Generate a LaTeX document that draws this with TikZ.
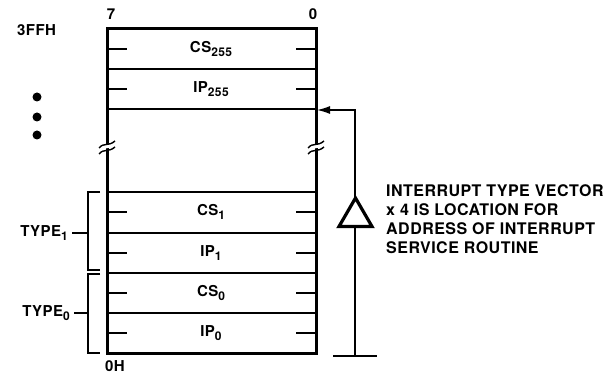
\documentclass[tikz,border=0pt]{standalone}
\usepackage{fontspec}
\setmainfont{TeX Gyre Heros}
\newfontfamily\spaced[LetterSpace=3]{TeX Gyre Heros}
\usetikzlibrary{arrows.meta}
\newcommand{\lowsub}[1]{\raisebox{-0.45ex}{\fontsize{12}{12}\selectfont #1}}
\begin{document}
\begin{tikzpicture}[x=1pt,y=-1pt,
  lbl/.style={font=\spaced\fontsize{15}{15}\bfseries\selectfont, inner sep=0pt},
  outer/.style={line width=3pt},
  rowline/.style={line width=2pt},
  tick/.style={line width=2pt},
  brk/.style={line width=1.5pt},
  breakmark/.style={line width=1.4pt}]
\useasboundingbox (0,0) rectangle (616,374);
% box rows
\foreach \y in {69,109,192,233,273,313} \draw[rowline] (107,\y) -- (316,\y);
\draw[outer] (107,29) rectangle (316,353);
% ticks
\foreach \y in {49,89,212,253,293,333} {
  \draw[tick] (107,\y) -- (127,\y);
  \draw[tick] (296,\y) -- (316,\y);
}
% break marks
\foreach \x in {107,316} {
  \draw[white,line width=4pt] (\x-7,150) .. controls (\x-3,144) and (\x+1,148) .. (\x+7,144);
  \draw[breakmark] (\x-8,148) .. controls (\x-3,142) and (\x+1,147) .. (\x+8,141);
  \draw[breakmark] (\x-8,154) .. controls (\x-3,148) and (\x+1,153) .. (\x+8,147);
}
% row labels
\node[lbl] (cs255) at (211,49) {CS\lowsub{255}};
\node[lbl] (ip255) at (211,89) {IP\lowsub{255}};
\node[lbl] (cs1) at (211,212) {CS\lowsub{1}};
\node[lbl] (ip1) at (211,253) {IP\lowsub{1}};
\node[lbl] (cs0) at (211,293) {CS\lowsub{0}};
\node[lbl] (ip0) at (211,333) {IP\lowsub{0}};
% top / bottom labels
\node[lbl] (b7) at (111,14) {7};
\node[lbl] (b0) at (313,14) {0};
\node[lbl,anchor=west] (top) at (17,30) {3FFH};
\node[lbl,anchor=west] (bot) at (105,366) {0H};
% dots
\foreach \y/\n in {97/d1,117/d2,135/d3} \fill (37,\y) circle (4.5pt) coordinate (\n);
% brackets
\draw[brk] (100,192) -- (88,192) -- (88,270) -- (100,270);
\draw[brk] (100,274) -- (88,274) -- (88,353) -- (100,353);
\node[lbl,anchor=east] (t1) at (68,233) {TYPE\lowsub{1}};
\node[lbl,anchor=east] (t0) at (70,313) {TYPE\lowsub{0}};
\draw[brk] (t1.east) ++(4,0) -- (88,233);
\draw[brk] (t0.east) ++(4,0) -- (88,313);
% arrow
\coordinate (gnd) at (355,356);
\coordinate (turn) at (355,110);
\coordinate (entry) at (317,110);
\draw[line width=1.3pt,-{Latex[length=13pt,width=8pt]}] (gnd) -- (turn) -- (entry);
\draw[line width=2pt] (333,356) -- (377,356);
\draw[line width=3.2pt,fill=white,line join=miter] (339,226.5) -- (372,226.5) -- (355.5,198) -- cycle;
% text
\node[lbl,anchor=north west,align=left,font=\spaced\fontsize{16}{19.2}\bfseries\selectfont] (note) at (386,184)
  {INTERRUPT TYPE VECTOR\\x 4 IS LOCATION FOR\\ADDRESS OF INTERRUPT\\SERVICE ROUTINE};
\end{tikzpicture}
\end{document}
